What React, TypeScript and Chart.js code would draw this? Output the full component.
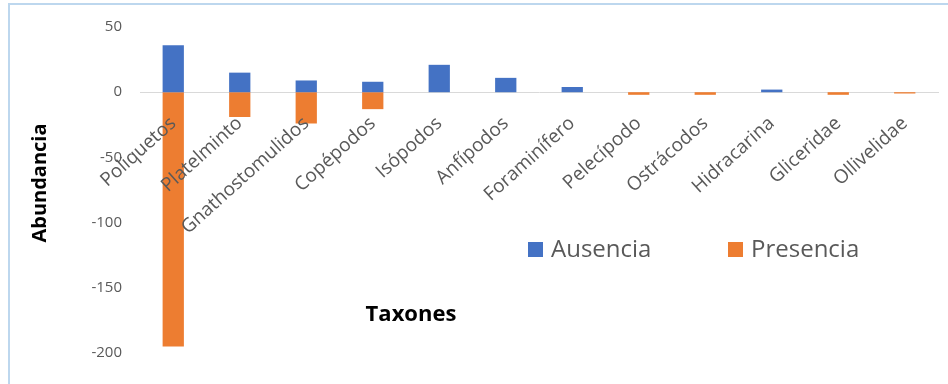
import React, { useEffect, useRef } from "react";
import { Chart, registerables } from "chart.js";

Chart.register(...registerables);

const categories = [
  "Poliquetos",
  "Platelminto",
  "Gnathostomulidos",
  "Copépodos",
  "Isópodos",
  "Anfípodos",
  "Foraminífero",
  "Pelecípodo",
  "Ostrácodos",
  "Hidracarina",
  "Gliceridae",
  "Ollivelidae",
];
const ausencia = [36, 15, 9, 8, 21, 11, 4, 0, 0, 2, 0, 0];
const presencia = [-195, -19, -24, -13, 0, 0, 0, -2, -2, 0, -2, -1];
const yTicks = [50, 0, -50, -100, -150, -200];

const seriesNames = ["Ausencia", "Presencia"];
const seriesColors = ["#4472C4", "#ED7D31"];

const FONT = "'Open Sans', 'Noto Sans', sans-serif";

const overlayPlugin = {
  id: "overlay",
  afterDraw(chart: any) {
    const ctx = chart.ctx as CanvasRenderingContext2D;
    ctx.save();
    // Y axis title
    ctx.fillStyle = "#000000";
    ctx.font = `bold 20px ${FONT}`;
    ctx.textAlign = "center";
    ctx.textBaseline = "middle";
    ctx.translate(40, 183);
    ctx.rotate(-Math.PI / 2);
    ctx.fillText("Abundancia", 0, 0);
    ctx.setTransform(1, 0, 0, 1, 0, 0);
    // X axis title
    ctx.font = `bold 22px ${FONT}`;
    ctx.fillText("Taxones", 411, 315);
    // Legend
    const legendX = [528, 728];
    chart.data.datasets.forEach((ds: any, i: number) => {
      ctx.fillStyle = ds.backgroundColor;
      ctx.fillRect(legendX[i], 242, 15, 15);
      ctx.fillStyle = "#595959";
      ctx.font = `24px ${FONT}`;
      ctx.textAlign = "left";
      ctx.textBaseline = "middle";
      ctx.fillText(ds.label, legendX[i] + 23, 250);
    });
    ctx.restore();
  },
};

export default function App() {
  const canvasRef = useRef<HTMLCanvasElement | null>(null);

  useEffect(() => {
    const canvas = canvasRef.current;
    if (!canvas) return;
    const chart = new Chart(canvas, {
      type: "bar",
      data: {
        labels: categories,
        datasets: [
          {
            label: seriesNames[0],
            data: ausencia,
            backgroundColor: seriesColors[0],
            barPercentage: 0.32,
            categoryPercentage: 1,
          },
          {
            label: seriesNames[1],
            data: presencia,
            backgroundColor: seriesColors[1],
            barPercentage: 0.32,
            categoryPercentage: 1,
          },
        ],
      },
      options: {
        animation: false,
        responsive: false,
        maintainAspectRatio: false,
        layout: { padding: { left: 0, right: 10, top: 23, bottom: 31 } },
        plugins: {
          legend: { display: false },
          tooltip: { enabled: false },
          title: { display: false },
        },
        scales: {
          x: {
            stacked: true,
            position: { y: 0 } as any,
            grid: { display: false, drawTicks: false },
            border: { display: true, color: "#D9D9D9", width: 1 },
            ticks: {
              z: 1,
              autoSkip: false,
              maxRotation: 42,
              minRotation: 42,
              padding: 20,
              color: "#595959",
              font: { family: FONT, size: 19 },
            },
          },
          y: {
            stacked: true,
            min: -200,
            max: 50,
            afterFit(scale: any) {
              scale.width = 140;
            },
            afterBuildTicks(scale: any) {
              scale.ticks = yTicks.map((v) => ({ value: v }));
            },
            grid: { display: false, drawTicks: false },
            border: { display: false },
            ticks: {
              padding: 18,
              color: "#595959",
              font: { family: FONT, size: 15 },
            },
          },
        },
      },
      plugins: [overlayPlugin],
    } as any);
    return () => chart.destroy();
  }, []);

  return (
    <div
      style={{
        position: "fixed",
        left: 0,
        top: 0,
        width: 948,
        height: 384,
        background: "#ffffff",
      }}
    >
      <div
        style={{
          position: "absolute",
          left: 8,
          top: 3,
          right: 0,
          bottom: 0,
          borderTop: "2px solid #BDD7EE",
          borderLeft: "2px solid #BDD7EE",
        }}
      />
      <canvas
        ref={canvasRef}
        width={948}
        height={384}
        style={{ position: "absolute", left: 0, top: 0, width: 948, height: 384 }}
      />
    </div>
  );
}
